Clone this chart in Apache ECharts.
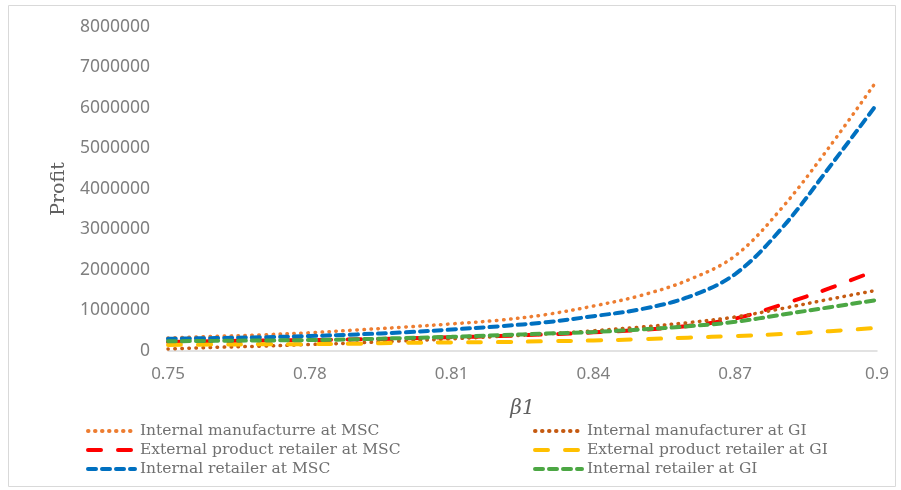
<!DOCTYPE html>
<html><head><meta charset="utf-8">
<script src="https://cdn.jsdelivr.net/npm/echarts@6/dist/echarts.min.js"></script>
<style>html,body{margin:0;padding:0;background:#fff}#c{width:901px;height:490px}</style>
</head><body><div id="c"></div>
<script>
const beta = [0.75,0.76,0.77,0.78,0.79,0.80,0.81,0.82,0.83,0.84,0.85,0.86,0.87,0.88,0.89,0.90];
const internalManufMSC = [320000,360000,400000,450000,520000,590000,670000,760000,900000,1110000,1370000,1750000,2350000,3550000,5050000,6680000];
const internalManufGI  = [50000,90000,120000,160000,200000,250000,300000,360000,420000,500000,590000,700000,840000,1050000,1280000,1500000];
const externalMSC      = [220000,240000,260000,270000,290000,310000,340000,370000,410000,460000,520000,620000,800000,1150000,1550000,2000000];
const externalGI       = [150000,160000,165000,170000,180000,200000,210000,220000,240000,260000,290000,330000,370000,420000,490000,570000];
const internalRetMSC   = [300000,320000,340000,370000,410000,460000,530000,610000,710000,860000,1030000,1330000,1900000,3050000,4550000,6100000];
const internalRetGI    = [240000,250000,260000,270000,290000,320000,350000,390000,430000,470000,530000,610000,720000,900000,1080000,1260000];
const yTicks = [0,1000000,2000000,3000000,4000000,5000000,6000000,7000000,8000000];
const names = ['Internal manufacturre at MSC','External product retailer at MSC','Internal retailer at MSC','Internal manufacturer at GI','External product retailer at GI','Internal retailer at GI'];

const pair = arr => beta.map((b,i)=>[b,arr[i]]);
const dotted = [0.5,6.5], longDash=[13,17], shortDash=[8,6];
function S(name, data, color, type, w){
  return {name, type:'line', data:pair(data), smooth:0.35, symbol:'none', showSymbol:false,
    lineStyle:{color, width:w, type, cap:'round'}, itemStyle:{color}};
}
const chart = echarts.init(document.getElementById('c'));
const legendText = {color:'#707070', fontFamily:'DejaVu Serif', fontSize:15.5};
const legendBase = {orient:'vertical', top:418, itemWidth:47, itemHeight:12, itemGap:3, textStyle:legendText,
  itemStyle:{opacity:0}, lineStyle:{width:4, cap:'round'}};
chart.setOption({
  animation:false,
  graphic:[{type:'rect', shape:{x:8.5,y:5.5,width:887,height:481}, style:{fill:'none', stroke:'#d9d9d9', lineWidth:1}}],
  grid:{left:168, right:24, top:27, bottom:139, containLabel:false},
  xAxis:{type:'value', min:0.75, max:0.9, interval:0.03,
    name:'β1', nameLocation:'middle', nameGap:48,
    nameTextStyle:{fontFamily:'DejaVu Serif', fontStyle:'italic', fontSize:20, color:'#606060'},
    axisLine:{show:true, lineStyle:{color:'#d9d9d9', width:1.5}}, axisTick:{show:false}, splitLine:{show:false},
    axisLabel:{color:'#7f7f7f', fontFamily:'Noto Sans', fontSize:17, margin:15,
      formatter:v=>String(+v.toFixed(2))}},
  yAxis:{type:'value', min:0, max:8000000, interval:1000000,
    name:'Profit', nameLocation:'middle', nameGap:92, nameRotate:90,
    nameTextStyle:{fontFamily:'DejaVu Serif', fontSize:19, color:'#606060'},
    axisLine:{show:false}, axisTick:{show:false}, splitLine:{show:false},
    axisLabel:{color:'#7f7f7f', fontFamily:'Noto Sans', fontSize:17.5, margin:18, formatter:v=>String(v)}},
  legend:[
    Object.assign({data:names.slice(0,3), left:81}, legendBase),
    Object.assign({data:names.slice(3,6), left:528}, legendBase)
  ],
  series:[
    S(names[0], internalManufMSC, '#ED7D31', dotted, 3.5),
    S(names[1], externalMSC, '#FF0000', longDash, 4),
    S(names[2], internalRetMSC, '#0070C0', shortDash, 4),
    S(names[3], internalManufGI, '#C55A11', dotted, 3.5),
    S(names[4], externalGI, '#FFC000', longDash, 4),
    S(names[5], internalRetGI, '#4CA744', shortDash, 4)
  ]
});
</script></body></html>
